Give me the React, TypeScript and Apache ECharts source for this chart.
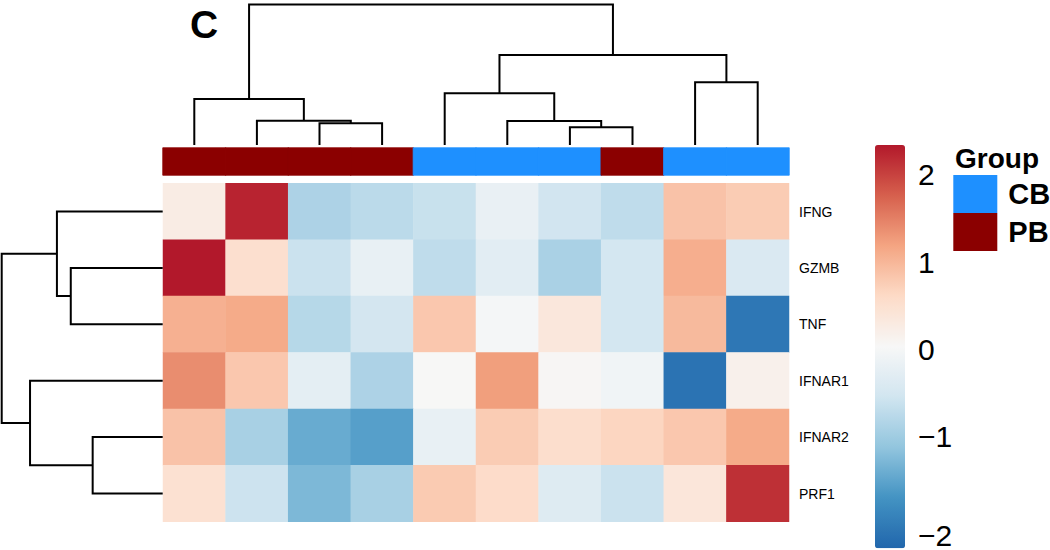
import React, { useEffect, useRef } from "react";
import * as echarts from "echarts";

// ---- data ----
const samples = ["PB1", "PB2", "PB3", "PB4", "CB1", "CB2", "CB3", "PB5", "CB4", "CB5"];
const groups = ["PB", "PB", "PB", "PB", "CB", "CB", "CB", "PB", "CB", "CB"];
const genes = ["IFNG", "GZMB", "TNF", "IFNAR1", "IFNAR2", "PRF1"];

const IFNG = [0.28, 2.25, -0.84, -0.71, -0.59, -0.15, -0.5, -0.67, 0.89, 0.79];
const GZMB = [2.34, 0.54, -0.56, -0.16, -0.67, -0.25, -0.86, -0.46, 1.1, -0.37];
const TNF = [1.08, 1.14, -0.75, -0.47, 0.84, 0.02, 0.38, -0.46, 0.98, -2.0];
const IFNAR1 = [1.4, 0.84, -0.23, -0.84, 0.07, 1.25, 0.1, -0.04, -2.05, 0.2];
const IFNAR2 = [0.89, -0.88, -1.38, -1.51, -0.16, 0.79, 0.56, 0.68, 0.84, 1.14];
const PRF1 = [0.5, -0.55, -1.23, -0.88, 0.8, 0.6, -0.32, -0.56, 0.4, 2.15];
const geneRows = [IFNG, GZMB, TNF, IFNAR1, IFNAR2, PRF1];

// hclust-style merges: negative = leaf (1-based, display order), positive = earlier merge
const colMerges: [number, number, number][] = [
  [-7, -8, 1.26],
  [-3, -4, 1.54],
  [-6, 1, 1.71],
  [-2, 2, 1.73],
  [-1, 4, 3.27],
  [-5, 3, 3.68],
  [-9, -10, 4.46],
  [6, 7, 6.4],
  [5, 8, 10.0],
];
const rowMerges: [number, number, number][] = [
  [-5, -6, 4.35],
  [-2, -3, 5.71],
  [-1, 2, 6.57],
  [-4, 1, 8.24],
  [3, 4, 10.0],
];

const scaleMin = -2.22;
const scaleMax = 2.34;
const colorbarTicks = [-2, -1, 0, 1, 2];
const groupLevels = ["CB", "PB"];
const groupColors = ["#1E90FF", "#8B0000"];
const palette = ["#2166AC", "#4393C3", "#92C5DE", "#D1E5F0", "#F7F7F7", "#FDDBC7", "#F4A582", "#D6604D", "#B2182B"];

const FONT = "'Liberation Sans', Arial, Helvetica, sans-serif";

function layoutDendro(merges: [number, number, number][]) {
  const nodes: { p: number; h: number }[] = [];
  const get = (id: number) => (id < 0 ? { p: -id - 0.5, h: 0 } : nodes[id - 1]);
  return merges.map((m) => {
    const a = get(m[0]);
    const b = get(m[1]);
    const node = { p: (a.p + b.p) / 2, h: m[2] };
    nodes.push(node);
    return { pa: a.p, ha: a.h, pb: b.p, hb: b.h, h: m[2], p: node.p };
  });
}

export default function App() {
  const ref = useRef<HTMLDivElement>(null);
  useEffect(() => {
    if (!ref.current) return;
    const chart = echarts.init(ref.current, null, { renderer: "svg" });

    const heatData: number[][] = [];
    geneRows.forEach((row, r) => row.forEach((v, c) => heatData.push([c, r, v])));
    const annData = groups.map((g, i) => {
      const code = groupLevels.indexOf(g);
      return {
        value: [i, 0, code],
        itemStyle: { borderColor: groupColors[code], borderWidth: 0.8 },
      };
    });

    const colSegs = layoutDendro(colMerges);
    const rowSegs = layoutDendro(rowMerges);
    const lineStyle = { stroke: "#000", lineWidth: 2, fill: null as any };

    const hiddenCat = (data: string[], gridIndex: number) => ({
      type: "category",
      data,
      gridIndex,
      show: false,
    });

    chart.setOption({
      animation: false,
      textStyle: { fontFamily: FONT },
      grid: [
        { left: 163, top: 183.3, width: 626, height: 338.4 },
        { left: 163, top: 148, width: 626, height: 27 },
        { left: 163, top: 4.5, width: 626, height: 140.5 },
        { left: 1.7, top: 183.3, width: 161, height: 338.4 },
        { left: 875, top: 174.9, width: 30, height: 353.6 },
      ],
      xAxis: [
        hiddenCat(samples, 0),
        hiddenCat(samples, 1),
        { type: "value", gridIndex: 2, min: 0, max: 10, show: false },
        { type: "value", gridIndex: 3, min: 0, max: 10, inverse: true, show: false },
        { type: "value", gridIndex: 4, min: 0, max: 1, show: false },
      ],
      yAxis: [
        {
          type: "category",
          data: genes,
          gridIndex: 0,
          inverse: true,
          position: "right",
          axisLine: { show: false },
          axisTick: { show: false },
          splitLine: { show: false },
          axisLabel: { margin: 10, fontSize: 14, color: "#000", fontFamily: FONT },
        },
        hiddenCat(["Group"], 1),
        { type: "value", gridIndex: 2, min: 0, max: 10, show: false },
        { type: "value", gridIndex: 3, min: 0, max: 6, inverse: true, show: false },
        {
          type: "value",
          gridIndex: 4,
          min: -2,
          max: 2,
          interval: 1,
          position: "right",
          axisLine: { show: false },
          axisTick: { show: false },
          splitLine: { show: false },
          axisLabel: {
            margin: 13,
            fontSize: 30,
            color: "#000",
            fontFamily: FONT,
            formatter: (v: number) => {
              const s = v < 0 ? "\u2212" + Math.abs(v) : String(v);
              return v === colorbarTicks[0] ? `{low|${s}}` : s;
            },
            rich: { low: { fontSize: 30, color: "#000", fontFamily: FONT, padding: [22, 0, 0, 0] } },
          },
        },
      ],
      visualMap: [
        {
          type: "continuous",
          seriesIndex: 0,
          min: scaleMin,
          max: scaleMax,
          inRange: { color: palette },
          orient: "vertical",
          left: 875,
          top: 145,
          itemWidth: 30,
          itemHeight: 403.3,
          calculable: false,
          hoverLink: false,
          padding: 0,
        },
        {
          type: "piecewise",
          seriesIndex: 1,
          pieces: groupLevels.map((g, i) => ({ value: i, label: g, color: groupColors[i] })),
          orient: "vertical",
          inverse: true,
          align: "left",
          left: 953.3,
          top: 175,
          itemWidth: 44,
          itemHeight: 38,
          itemGap: 0,
          itemSymbol: "rect",
          textGap: 11,
          padding: 0,
          selectedMode: false,
          hoverLink: false,
          textStyle: { fontSize: 29, fontWeight: "bold", color: "#000", fontFamily: FONT },
        },
      ],
      graphic: [
        {
          type: "text",
          left: 190,
          top: 5,
          style: { text: "C", fontSize: 39, fontWeight: "bold", fill: "#000", fontFamily: FONT },
        },
        {
          type: "text",
          left: 955,
          top: 144,
          style: { text: "Group", fontSize: 28, fontWeight: "bold", fill: "#000", fontFamily: FONT },
        },
      ],
      series: [
        {
          type: "heatmap",
          xAxisIndex: 0,
          yAxisIndex: 0,
          data: heatData,
          emphasis: { disabled: true },
        },
        {
          type: "heatmap",
          xAxisIndex: 1,
          yAxisIndex: 1,
          data: annData,
          emphasis: { disabled: true },
        },
        {
          type: "custom",
          xAxisIndex: 2,
          yAxisIndex: 2,
          data: colSegs.map((s) => [s.p, s.h]),
          renderItem: (params: any, api: any) => {
            const s = colSegs[params.dataIndex];
            return {
              type: "polyline",
              shape: {
                points: [
                  api.coord([s.pa, s.ha]),
                  api.coord([s.pa, s.h]),
                  api.coord([s.pb, s.h]),
                  api.coord([s.pb, s.hb]),
                ],
              },
              style: lineStyle,
            };
          },
        },
        {
          type: "custom",
          xAxisIndex: 3,
          yAxisIndex: 3,
          data: rowSegs.map((s) => [s.h, s.p]),
          renderItem: (params: any, api: any) => {
            const s = rowSegs[params.dataIndex];
            return {
              type: "polyline",
              shape: {
                points: [
                  api.coord([s.ha, s.pa]),
                  api.coord([s.h, s.pa]),
                  api.coord([s.h, s.pb]),
                  api.coord([s.hb, s.pb]),
                ],
              },
              style: lineStyle,
            };
          },
        },
      ],
    });
    return () => chart.dispose();
  }, []);
  return (
    <div
      ref={ref}
      style={{ position: "fixed", left: 0, top: 0, width: 1050, height: 550, background: "#fff" }}
    />
  );
}
